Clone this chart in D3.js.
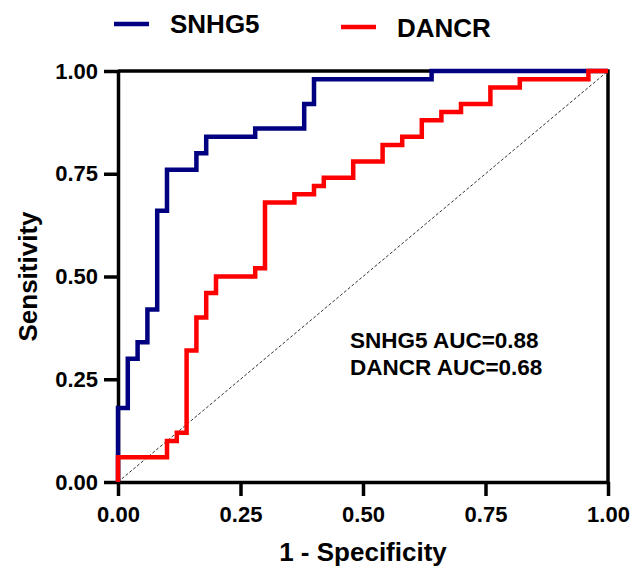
<!DOCTYPE html>
<html>
<head>
<meta charset="utf-8">
<script src="https://cdn.jsdelivr.net/npm/d3@7"></script>
<style>
  body { margin: 0; background: #fff; }
  svg { display: block; }
  text { font-family: "Liberation Sans", Arial, sans-serif; font-weight: bold; fill: #000; }
</style>
</head>
<body>
<svg id="chart" width="642" height="566"></svg>
<script>
// ROC points (1 - specificity, sensitivity), step: vertical then horizontal
const snhg5Fpr = [0, 0.02, 0.04, 0.06, 0.08, 0.10, 0.16, 0.18, 0.28, 0.38, 0.40, 0.64, 1.00];
const snhg5Tpr = [0, 0.18, 0.30, 0.34, 0.42, 0.66, 0.76, 0.80, 0.84, 0.86, 0.92, 0.98, 1.00];
const dancrFpr = [0, 0.10, 0.12, 0.14, 0.16, 0.18, 0.20, 0.28, 0.30, 0.36, 0.40, 0.42, 0.48, 0.54, 0.58, 0.62, 0.66, 0.70, 0.76, 0.82, 0.96, 1.00];
const dancrTpr = [0, 0.06, 0.10, 0.12, 0.32, 0.40, 0.46, 0.50, 0.52, 0.68, 0.70, 0.72, 0.74, 0.78, 0.82, 0.84, 0.88, 0.90, 0.92, 0.96, 0.98, 1.00];
const tickValues = [0, 0.25, 0.5, 0.75, 1.0];
const seriesNames = ["SNHG5", "DANCR"];
const aucLabels = ["SNHG5 AUC=0.88", "DANCR AUC=0.68"];
const xTitle = "1 - Specificity";
const yTitle = "Sensitivity";

(function () {
const svg = d3.select("#chart");
const pL = 118, pR = 608, pT = 71, pB = 482;
const x = d3.scaleLinear().domain([0, 1]).range([pL, pR]);
const y = d3.scaleLinear().domain([0, 1]).range([pB, pT]);
const fmt = d3.format(".2f");

// diagonal reference
svg.append("line")
  .attr("x1", x(0)).attr("y1", y(0)).attr("x2", x(1)).attr("y2", y(1))
  .attr("stroke", "#333").attr("stroke-width", 1).attr("stroke-dasharray", "3,2");

// frame top & right
svg.append("line").attr("x1", x(0)).attr("x2", x(1)).attr("y1", y(1)).attr("y2", y(1))
  .attr("stroke", "#000").attr("stroke-width", 3.5);
svg.append("line").attr("x1", x(1)).attr("x2", x(1)).attr("y1", y(1) - 1.75).attr("y2", y(0))
  .attr("stroke", "#000").attr("stroke-width", 3.5);

// axes
const yAxis = svg.append("g").attr("transform", `translate(${pL},0)`)
  .call(d3.axisLeft(y).tickValues(tickValues).tickFormat(fmt).tickSize(14).tickSizeOuter(0).tickPadding(6));
const xAxis = svg.append("g").attr("transform", `translate(0,${pB})`)
  .call(d3.axisBottom(x).tickValues(tickValues).tickFormat(fmt).tickSize(14).tickSizeOuter(0).tickPadding(10));
[xAxis, yAxis].forEach(g => {
  g.select(".domain").attr("stroke", "#000").attr("stroke-width", 3.5);
  g.selectAll(".tick line").attr("stroke", "#000").attr("stroke-width", 3.5);
  g.selectAll(".tick text").style("font-size", "22px").style("font-family", '"Liberation Sans", Arial, sans-serif').style("font-weight", "bold").attr("fill", "#000");
});

// ROC curves
const line = d3.line().x(d => x(d[0])).y(d => y(d[1])).curve(d3.curveStepBefore);
const snhg5 = snhg5Fpr.map((v, i) => [v, snhg5Tpr[i]]);
const dancr = dancrFpr.map((v, i) => [v, dancrTpr[i]]);
svg.append("path").datum(snhg5).attr("d", line)
  .attr("fill", "none").attr("stroke", "#000080").attr("stroke-width", 4.5);
svg.append("path").datum(dancr).attr("d", line)
  .attr("fill", "none").attr("stroke", "#ff0000").attr("stroke-width", 4.5);

// axis titles
svg.append("text").attr("x", (pL + pR) / 2).attr("y", 561).attr("text-anchor", "middle")
  .style("font-size", "26px").text(xTitle);
svg.append("text").attr("transform", `translate(37,${(pT + pB) / 2}) rotate(-90)`)
  .attr("text-anchor", "middle").style("font-size", "26px").text(yTitle);

// legend
const legend = [
  { name: seriesNames[0], color: "#000080", lx: 114, ly: 24, tx: 170, ty: 33 },
  { name: seriesNames[1], color: "#ff0000", lx: 341, ly: 27, tx: 397, ty: 37 }
];
legend.forEach(l => {
  svg.append("line").attr("x1", l.lx).attr("x2", l.lx + 35).attr("y1", l.ly).attr("y2", l.ly)
    .attr("stroke", l.color).attr("stroke-width", 4.5);
  svg.append("text").attr("x", l.tx).attr("y", l.ty).style("font-size", "26px").text(l.name);
});

// AUC annotation
aucLabels.forEach((t, i) => {
  svg.append("text").attr("x", 350).attr("y", 348 + i * 26.5).style("font-size", "22.5px").text(t);
});
})();
</script>
</body>
</html>
